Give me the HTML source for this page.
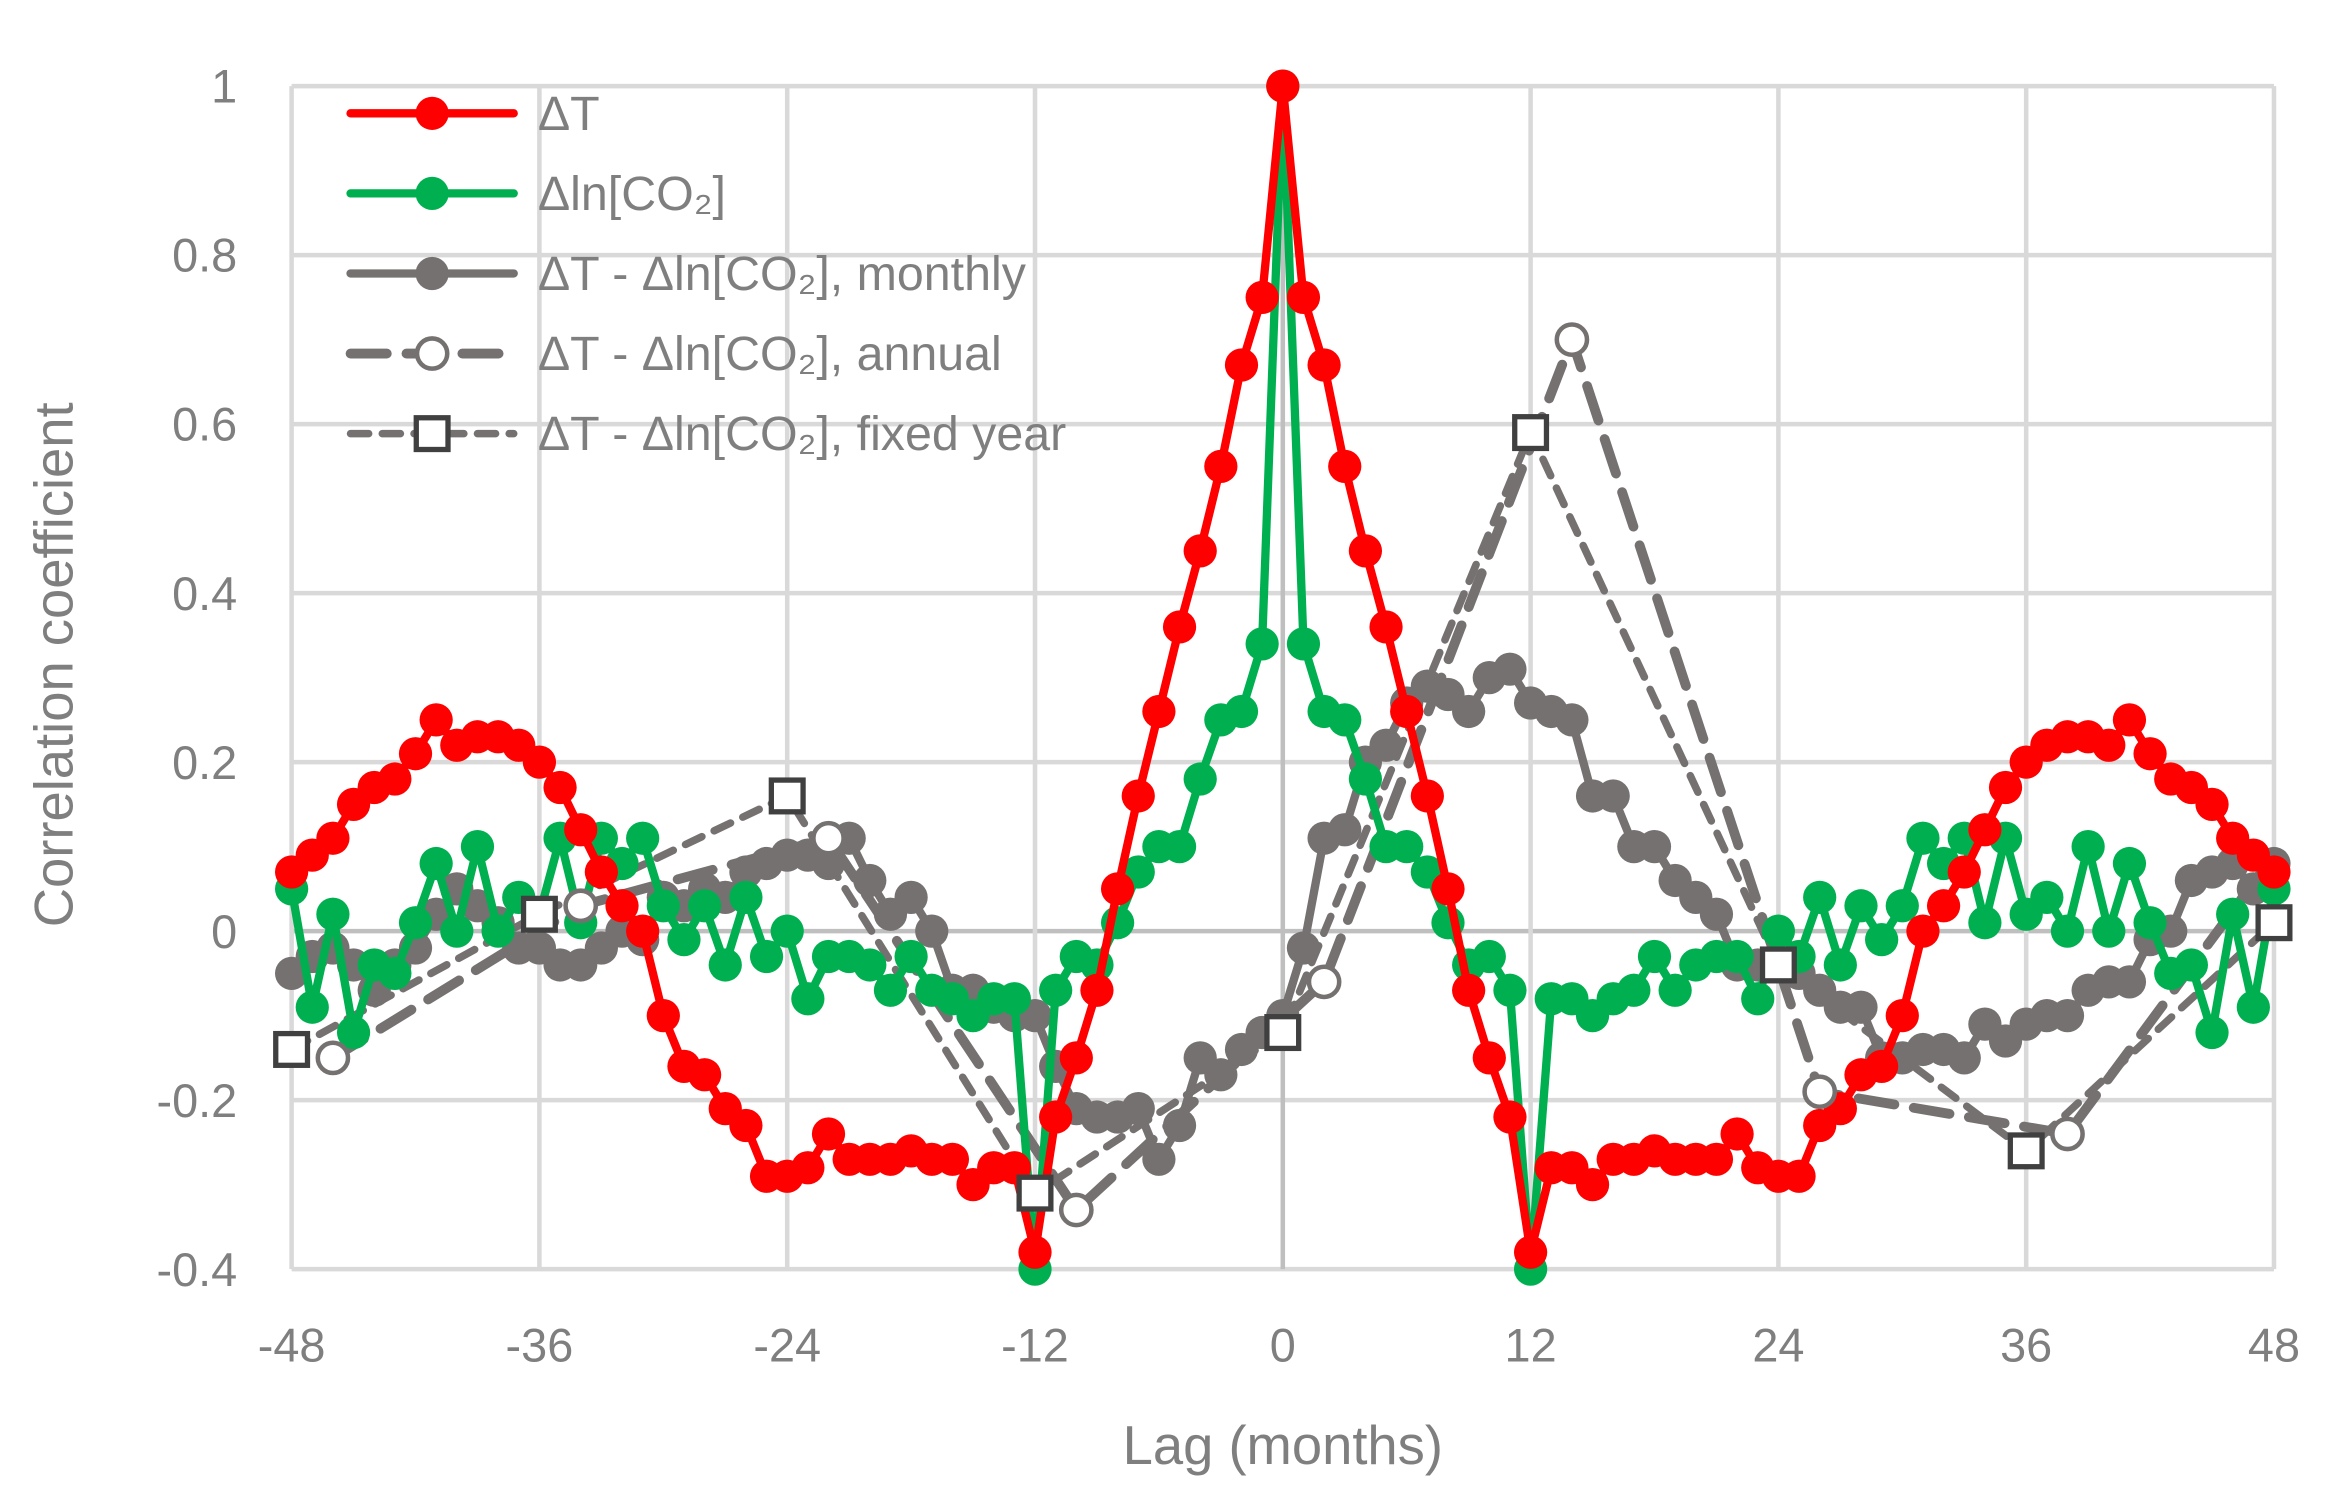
<!DOCTYPE html>
<html><head><meta charset="utf-8"><style>
html,body{margin:0;padding:0;background:#fff;}
svg{display:block;font-family:"Liberation Sans",sans-serif;}
</style></head><body>
<svg id="chart" width="2345" height="1510" viewBox="0 0 1552 999.4" preserveAspectRatio="none" xmlns="http://www.w3.org/2000/svg">
<g id="grid"></g>
<g id="series"></g>
<g id="legend"></g>
<text transform="translate(48,440) rotate(-90)" text-anchor="middle" font-size="36" fill="#7f7f7f">Correlation coefficient</text>
<text x="849" y="969" text-anchor="middle" font-size="36" fill="#7f7f7f">Lag (months)</text>
</svg>
<script>
const lags = [];
for (let i = -48; i <= 48; i++) lags.push(i);
const dTLeft = [0.07,0.09,0.11,0.15,0.17,0.18,0.21,0.25,0.22,0.23,0.23,0.22,0.2,0.17,0.12,0.07,0.03,0.0,-0.1,-0.16,-0.17,-0.21,-0.23,-0.29,-0.29,-0.28,-0.24,-0.27,-0.27,-0.27,-0.26,-0.27,-0.27,-0.3,-0.28,-0.28,-0.38,-0.22,-0.15,-0.07,0.05,0.16,0.26,0.36,0.45,0.55,0.67,0.75,1.0];
const co2Left = [0.05,-0.09,0.02,-0.12,-0.04,-0.05,0.01,0.08,0.0,0.1,0.0,0.04,0.02,0.11,0.01,0.11,0.08,0.11,0.03,-0.01,0.03,-0.04,0.04,-0.03,0.0,-0.08,-0.03,-0.03,-0.04,-0.07,-0.03,-0.07,-0.08,-0.1,-0.08,-0.08,-0.4,-0.07,-0.03,-0.04,0.01,0.07,0.1,0.1,0.18,0.25,0.26,0.34,1.0];
const monthly = [-0.05,-0.03,-0.02,-0.04,-0.07,-0.04,-0.02,0.02,0.05,0.03,0.01,-0.02,-0.02,-0.04,-0.04,-0.02,0.0,-0.01,0.04,0.03,0.05,0.04,0.07,0.08,0.09,0.09,0.08,0.11,0.06,0.02,0.04,0.0,-0.07,-0.07,-0.09,-0.1,-0.1,-0.16,-0.21,-0.22,-0.22,-0.21,-0.27,-0.23,-0.15,-0.17,-0.14,-0.12,-0.1,-0.02,0.11,0.12,0.2,0.22,0.27,0.29,0.28,0.26,0.3,0.31,0.27,0.26,0.25,0.16,0.16,0.1,0.1,0.06,0.04,0.02,-0.04,-0.04,-0.04,-0.05,-0.07,-0.09,-0.09,-0.15,-0.15,-0.14,-0.14,-0.15,-0.11,-0.13,-0.11,-0.1,-0.1,-0.07,-0.06,-0.06,-0.01,0.0,0.06,0.07,0.08,0.05,0.08];
const annualLags = [-46,-34,-22,-10,2,14,26,38,48];
const annualVals = [-0.15,0.03,0.11,-0.33,-0.06,0.7,-0.19,-0.24,0.09];
const annualMarker = [1,1,1,1,1,1,1,1,0];
const fixedLags = [-48,-36,-24,-12,0,12,24,36,48];
const fixedVals = [-0.14,0.02,0.16,-0.31,-0.12,0.59,-0.04,-0.26,0.01];
const xTicks = [-48,-36,-24,-12,0,12,24,36,48];
const yTicks = [-0.4,-0.2,0,0.2,0.4,0.6,0.8,1];
const yTickLabels = ["-0.4","-0.2","0","0.2","0.4","0.6","0.8","1"];

const dT = dTLeft.concat(dTLeft.slice(0,48).reverse());
const co2 = co2Left.concat(co2Left.slice(0,48).reverse());

const NS = "http://www.w3.org/2000/svg";
const X = v => 193 + (v + 48) * (1505 - 193) / 96;
const Y = v => 57 + (1 - v) * (840 - 57) / 1.4;
function mk(tag, attrs, parent){const e=document.createElementNS(NS,tag);for(const k in attrs)e.setAttribute(k,attrs[k]);parent.appendChild(e);return e;}

const grid = document.getElementById('grid');
yTicks.forEach((t,i)=>{
  const l = mk('line',{x1:X(-48),x2:X(48),y1:Y(t),y2:Y(t),stroke:t===0?'#bfbfbf':'#d9d9d9','stroke-width':3},grid);
  
  
  const tx = mk('text',{x:157,y:Y(t)+11,'text-anchor':'end','font-size':31,fill:'#7f7f7f'},grid);
  tx.textContent = yTickLabels[i];
  
  
});
xTicks.forEach(t=>{
  const l = mk('line',{x1:X(t),x2:X(t),y1:Y(1),y2:Y(-0.4),stroke:t===0?'#bfbfbf':'#d9d9d9','stroke-width':3},grid);
  
  
  const tx = mk('text',{x:X(t),y:901,'text-anchor':'middle','font-size':31,fill:'#7f7f7f'},grid);
  tx.textContent = String(t);
  
  
});

const ser = document.getElementById('series');
function pts(xs, ys){return xs.map((x,i)=>X(x).toFixed(1)+','+Y(ys[i]).toFixed(1)).join(' ');}

function series(name, xs, ys, color){
  const g = mk('g',{},ser);
  
  
  mk('polyline',{points:pts(xs,ys),fill:'none',stroke:color,'stroke-width':5.5,'stroke-linejoin':'round'},g);
  xs.forEach((x,i)=>{
    const c = mk('circle',{cx:X(x),cy:Y(ys[i]),r:11,fill:color},g);
    
    
  });
}
(function(){
  const g = mk('g',{},ser);
  
  
  mk('polyline',{points:pts(fixedLags,fixedVals),fill:'none',stroke:'#767171','stroke-width':5,'stroke-dasharray':'12 9','stroke-linecap':'round'},g);
  window._fixedG = g;
})();
(function(){
  const g = mk('g',{},ser);
  
  
  mk('polyline',{points:pts(annualLags,annualVals),fill:'none',stroke:'#767171','stroke-width':6.5,'stroke-dasharray':'24 13','stroke-linecap':'round'},g);
  window._annualG = g;
})();
series('series-monthly', lags, monthly, '#767171');
series('series-dlnco2', lags, co2, '#00b050');
series('series-dt', lags, dT, '#ff0000');
annualLags.forEach((x,i)=>{
  if(!annualMarker[i]) return;
  const c = mk('circle',{cx:X(x),cy:Y(annualVals[i]),r:10,fill:'#fff',stroke:'#767171','stroke-width':3},window._annualG.parentNode);
  
  
});
fixedLags.forEach((x,i)=>{
  const r = mk('rect',{x:X(x)-10.5,y:Y(fixedVals[i])-10.5,width:21,height:21,fill:'#fff',stroke:'#404040','stroke-width':3.5},window._fixedG.parentNode);
  
  
});

const leg = document.getElementById('legend');
const entries = [
  {label:'ΔT', color:'#ff0000', dash:null, w:5.5, m:'dot'},
  {label:'Δln[CO₂]', color:'#00b050', dash:null, w:5.5, m:'dot'},
  {label:'ΔT - Δln[CO₂], monthly', color:'#767171', dash:null, w:5.5, m:'dot'},
  {label:'ΔT - Δln[CO₂], annual', color:'#767171', dash:'24 13', w:6.5, m:'open'},
  {label:'ΔT - Δln[CO₂], fixed year', color:'#767171', dash:'12 9', w:5, m:'square'}
];
entries.forEach((e,i)=>{
  const y = 75 + i*53;
  const g = mk('g',{},leg);
  
  
  const a = {x1:232,x2:340,y1:y,y2:y,stroke:e.color,'stroke-width':e.w,'stroke-linecap':'round'};
  if(e.dash) a['stroke-dasharray']=e.dash;
  mk('line',a,g);
  if(e.m==='dot') mk('circle',{cx:286,cy:y,r:11,fill:e.color},g);
  else if(e.m==='open') mk('circle',{cx:286,cy:y,r:10,fill:'#fff',stroke:e.color,'stroke-width':3},g);
  else mk('rect',{x:275.5,y:y-10.5,width:21,height:21,fill:'#fff',stroke:'#404040','stroke-width':3.5},g);
  const t = mk('text',{x:356,y:y+11,'font-size':32,fill:'#7f7f7f'},g);
  t.textContent = e.label;
});
</script>
</body></html>
